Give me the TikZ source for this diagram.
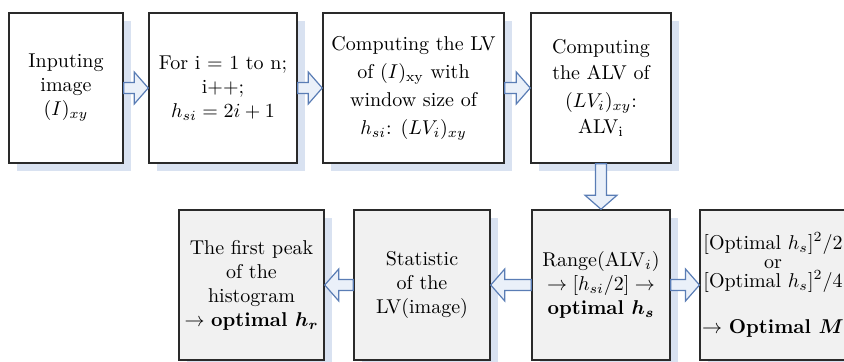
\documentclass[tikz,border=0pt]{standalone}
\usepackage{bm}
\usetikzlibrary{calc,shadows}
\definecolor{FlowLine}{HTML}{2A2A2A}
\definecolor{FlowBlue}{HTML}{5A7DB5}
\definecolor{FlowTint}{HTML}{EAF0F9}
\definecolor{FlowShade}{HTML}{D9E2F1}
\definecolor{FlowGray}{HTML}{F1F1F1}

\tikzset{
  stepbox/.style={draw=FlowLine,line width=0.75pt,fill=white,align=center,
    minimum height=75pt,inner sep=2pt,
    drop shadow={fill=FlowShade,opacity=1,shadow xshift=4pt,shadow yshift=-4pt}},
  endbox/.style={stepbox,fill=FlowGray},
  flowarrow/.style={draw=FlowBlue,fill=FlowTint,line width=0.6pt,
    to path={
      ($(\tikztostart)!2.75pt!-90:(\tikztotarget)$)
      -- ($($(\tikztotarget)!7pt!(\tikztostart)$)!2.75pt!-90:(\tikztotarget)$)
      -- ($($(\tikztotarget)!7pt!(\tikztostart)$)!8pt!-90:(\tikztotarget)$)
      -- (\tikztotarget)
      -- ($($(\tikztotarget)!7pt!(\tikztostart)$)!8pt!90:(\tikztotarget)$)
      -- ($($(\tikztotarget)!7pt!(\tikztostart)$)!2.75pt!90:(\tikztotarget)$)
      -- ($(\tikztostart)!2.75pt!90:(\tikztotarget)$)
      -- cycle}}
}

\begin{document}
\begin{tikzpicture}[x=0.5pt,y=-0.5pt,font=\fontsize{10}{12}\selectfont]
  \useasboundingbox (0,0) rectangle (844,362);

  % first row
  \node[stepbox,minimum width=57pt] (input) at (66,88)
    {Inputing\\ image\\ $(I)_{xy}$};
  \node[stepbox,minimum width=74pt] (loop) at (223,88)
    {For i = 1 to n;\\ i++;\\ $h_{si} = 2i + 1$};
  \node[stepbox,minimum width=90.5pt] (lv) at (413.5,88)
    {Computing the LV\\[2pt] of $(I)_{\mathrm{xy}}$ with\\[2pt] window size of\\[2pt] $h_{si}$: $(LV_i)_{xy}$};
  \node[stepbox,minimum width=70pt] (alv) at (601,88)
    {Computing\\[1pt] the ALV of\\[2pt] $(LV_i)_{xy}$:\\[1pt] ALV$_{\mathrm{i}}$};

  % second row
  \node[endbox,minimum width=72.5pt] (peak) at (251.5,285)
    {The first peak\\ of the\\ histogram\\ $\rightarrow$ \textbf{optimal $\bm{h_r}$}};
  \node[endbox,minimum width=68pt] (stat) at (422,285)
    {Statistic\\ of the\\ LV(image)};
  \node[endbox,minimum width=69pt] (range) at (601,285)
    {Range(ALV$_i$)\\ $\rightarrow[h_{si}/2]\rightarrow$\\ \textbf{optimal $\bm{h_s}$}};
  \node[endbox,minimum width=72pt,inner xsep=1pt] (mval) at (773,285)
    {{[}Optimal $h_s${]}$^2$/2\\[-2.5pt] or\\[-2.5pt] {[}Optimal $h_s${]}$^2$/4\\[11pt] $\rightarrow$ \textbf{Optimal $\bm{M}$}};

  % block arrows
  \draw[flowarrow] (input.east) to (loop.west);
  \draw[flowarrow] (loop.east) to (lv.west);
  \draw[flowarrow] (lv.east) to (alv.west);
  \draw[flowarrow] (alv.south) to (range.north);
  \draw[flowarrow] (range.east) to (mval.west);
  \draw[flowarrow] (range.west) to (stat.east);
  \draw[flowarrow] (stat.west) to (peak.east);
\end{tikzpicture}
\end{document}
